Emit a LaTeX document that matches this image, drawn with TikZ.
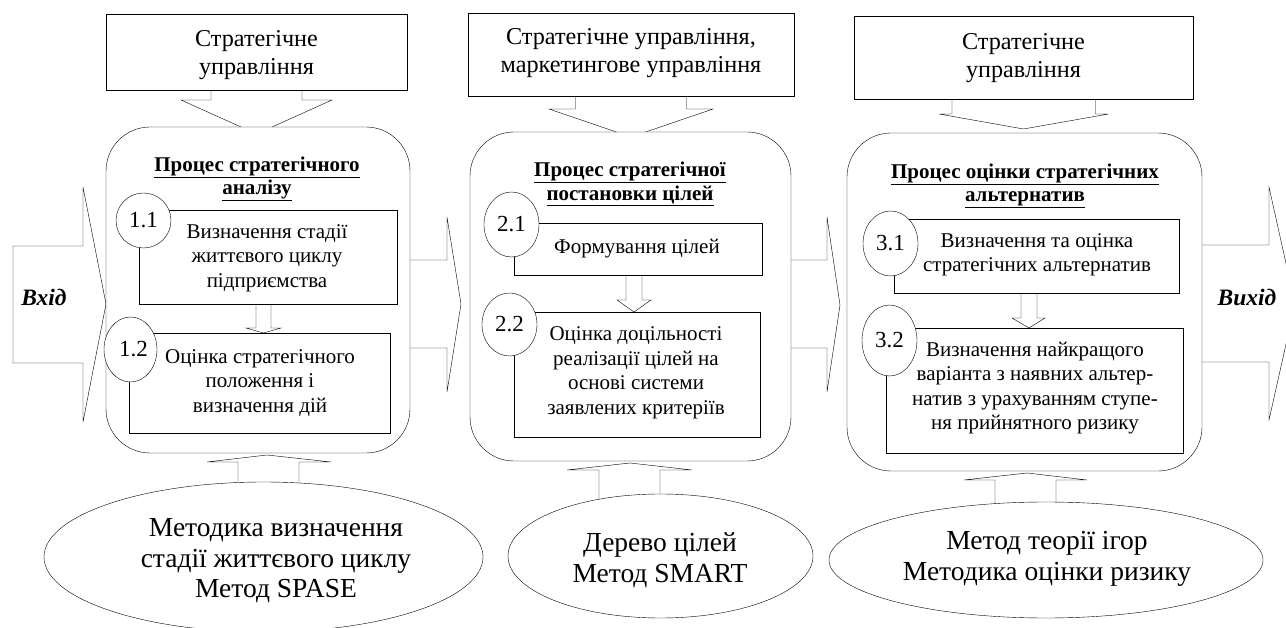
\documentclass[tikz,border=0pt]{standalone}
\usepackage{fontspec}
\setmainfont{Liberation Serif}
\usetikzlibrary{shapes.geometric,calc}
\pgfdeclarelayer{lzero}
\pgfdeclarelayer{lone}
\pgfdeclarelayer{ltwo}
\pgfsetlayers{lzero,lone,ltwo,main}
\tikzset{
  bx/.style={draw, fill=white, anchor=north west, inner sep=0pt, outer sep=0pt},
  rbx/.style={bx, rounded corners=44pt},
  ell/.style={draw, fill=white, ellipse, inner sep=0pt, outer sep=0pt},
  blk/.style={draw, fill=white, line join=miter},
  toptxt/.style={align=center, font=\fontsize{24.2}{28}\selectfont},
  ttltxt/.style={align=center, font=\fontsize{21}{23.5}\selectfont\bfseries},
  intxt/.style={align=center, font=\fontsize{21}{24.5}\selectfont},
  numtxt/.style={font=\fontsize{23}{23}\selectfont},
  elltxt/.style={align=center, font=\fontsize{27.5}{30.5}\selectfont},
  iotxt/.style={font=\fontsize{23.5}{23.5}\selectfont\bfseries\itshape},
}
\newcommand\mybox[6]{\node[#1, minimum width={#4-#2}, minimum height={#5-#3}] (#6) at (#2,#3) {};}
\begin{document}
\begin{tikzpicture}[x=1pt, y=-1pt, line width=1.8pt]
\useasboundingbox (0,0) rectangle (1286,628);

% ---------- layer one: top boxes, process boxes, ellipses
\begin{pgfonlayer}{lone}
\mybox{bx}{106}{14}{407}{90}{t1}
\mybox{bx}{468}{13}{794}{96}{t2}
\mybox{bx}{854}{16}{1193}{99}{t3}
\mybox{rbx}{106}{127}{410}{453}{r1}
\mybox{rbx}{470}{132}{791}{461}{r2}
\mybox{rbx}{847}{133}{1202}{471}{r3}
\node[ell, minimum width=439, minimum height=150] (e1) at (263.5,557) {};
\node[ell, minimum width=305, minimum height=124] (e2) at (660.5,556) {};
\node[ell, minimum width=434, minimum height=116] (e3) at (1046,560) {};
\end{pgfonlayer}

% ---------- layer zero: block arrows between the boxes
\begin{pgfonlayer}{lzero}
% down arrows from the top boxes
\draw[blk] ($(t1.south)+(-45.5,-2)$) -- ++(0,12) -- ++(-30,0) -- ($(t1.south)+(0,44)$)
  -- ($(t1.south)+(75.5,10)$) -- ++(-30,0) -- ++(0,-12);
\draw[blk] ($(t2.south)+(-55.5,-2)$) -- ++(0,15) -- ++(-26.5,0) -- ($(t2.south)+(0,41)$)
  -- ($(t2.south)+(82,13)$) -- ++(-26.5,0) -- ++(0,-15);
\draw[blk] ($(t3.south)+(-71.5,-2)$) -- ++(0,17) -- ++(-13,0) -- ($(t3.south)+(0,30)$)
  -- ($(t3.south)+(85,15)$) -- ++(-13,0) -- ++(0,-17);
% input arrow
\draw[blk] (13,246) -- (83,246) -- (83,187) -- (r1.west |- 0,304) -- (83,422) -- (83,363) -- (13,363) -- cycle;
% arrows between the processes
\draw[blk] ($(r1.east |- 0,260)+(-4,0)$) -- (447,260) -- (447,217) -- ($(r2.west |- 0,304)+(-9,0)$)
  -- (447,392) -- (447,348) -- ($(r1.east |- 0,348)+(-4,0)$);
\draw[blk] ($(r2.east |- 0,260)+(-4,0)$) -- (827,260) -- (827,217) -- ($(r3.west |- 0,305)+(-7,0)$)
  -- (827,392) -- (827,348) -- ($(r2.east |- 0,348)+(-4,0)$);
% output arrow
\draw[blk] ($(r3.east |- 0,245)+(-4,0)$) -- (1269,245) -- (1269,187) -- (1295,304)
  -- (1269,420) -- (1269,362) -- ($(r3.east |- 0,362)+(-4,0)$);
% up arrows from the ellipses
\draw[blk] (238,500) -- (238,462) -- (207,462) -- (267,455) -- (331,462) -- (299,462) -- (299,500);
\draw[blk] (599,505) -- (599,470) -- (567,470) -- (630,463) -- (692,470) -- (660,470) -- (660,505);
\draw[blk] (995,515) -- (995,480) -- (964,480) -- (1027,473) -- (1087,480) -- (1056,480) -- (1056,515);
\end{pgfonlayer}

% ---------- inner boxes
\mybox{bx}{139}{210}{397}{304}{b11}
\mybox{bx}{129}{333}{390}{433}{b12}
\mybox{bx}{514}{223}{762}{275}{b21}
\mybox{bx}{514}{312}{760}{437}{b22}
\mybox{bx}{894}{219}{1179}{293}{b31}
\mybox{bx}{886}{328}{1183}{453}{b32}

% ---------- layer two: small arrows inside the processes
\begin{pgfonlayer}{ltwo}
\draw[blk] ($(b11.south -| 256,0)+(0,-3)$) -- (256,328) -- (246,328) -- (b12.north -| 263.5,0)
  -- (281,328) -- (271,328) -- ($(b11.south -| 271,0)+(0,-3)$);
\draw[blk] ($(b21.south -| 626,0)+(0,-3)$) -- (626,300) -- (617,300) -- (b22.north -| 634,0)
  -- (651,300) -- (642,300) -- ($(b21.south -| 642,0)+(0,-3)$);
\draw[blk] ($(b31.south -| 1021,0)+(0,-3)$) -- (1021,318) -- (1012,318) -- (b32.north -| 1029,0)
  -- (1045,318) -- (1037,318) -- ($(b31.south -| 1037,0)+(0,-3)$);
\end{pgfonlayer}

% ---------- circles with numbers
\node[ell, minimum width=55, minimum height=55, numtxt] (c11) at (143.5,220.5) {1.1\hspace{6pt}};
\node[ell, minimum width=53, minimum height=65, numtxt] (c12) at (130.5,349.5) {\hspace{6pt}1.2};
\node[ell, minimum width=55, minimum height=65, numtxt] (c21) at (511.5,224.5) {2.1\hspace{6pt}};
\node[ell, minimum width=55, minimum height=63, numtxt] (c22) at (509.5,324.5) {2.2\hspace{6pt}};
\node[ell, minimum width=55, minimum height=65, numtxt] (c31) at (890.5,243.5) {3.1\hspace{6pt}};
\node[ell, minimum width=55, minimum height=71, numtxt] (c32) at (889.5,340.5) {3.2\hspace{6pt}};

% ---------- texts
\node[toptxt] (tt1) at ($(t1.center)+(0,3)$) {Стратегічне\\управління};
\node[toptxt] (tt2) at ($(t2.center)+(0,-1)$) {Стратегічне управління,\\маркетингове управління};
\node[toptxt] (tt3) at ($(t3.center)+(0,1)$) {Стратегічне\\управління};

\node[ttltxt] (h1) at (257,179) {\underline{Процес стратегічного}\\\underline{аналізу}};
\node[ttltxt] (h2) at (630,184) {\underline{Процес стратегічної}\\\underline{постановки цілей}};
\node[ttltxt] (h3) at (1025,186) {\underline{Процес оцінки стратегічних}\\\underline{альтернатив}};

\node[intxt] (x11) at (267,258) {Визначення стадії\\життєвого циклу\\підприємства};
\node[intxt] (x12) at (260,383) {Оцінка стратегічного\\положення і\\визначення дій};
\node[intxt] (x21) at (637,249) {Формування цілей};
\node[intxt] (x22) at (636,373) {Оцінка доцільності\\реалізації цілей на\\основі системи\\заявлених критеріїв};
\node[intxt] (x31) at (1037,255) {Визначення та оцінка\\стратегічних альтернатив};
\node[intxt] (x32) at (1035,388) {Визначення найкращого\\варіанта з наявних альтер-\\натив з урахуванням ступе-\\ня прийнятного ризику};

\node[elltxt] (m1) at (276,561) {Методика визначення\\стадії життєвого циклу\\Метод SPASE};
\node[elltxt] (m2) at (660,560) {Дерево цілей\\Метод SMART};
\node[elltxt] (m3) at (1047,559) {Метод теорії ігор\\Методика оцінки ризику};

\node[iotxt] (vin) at (44,297) {Вхід};
\node[iotxt] (vout) at (1247,297) {Вихід};
\end{tikzpicture}
\end{document}
